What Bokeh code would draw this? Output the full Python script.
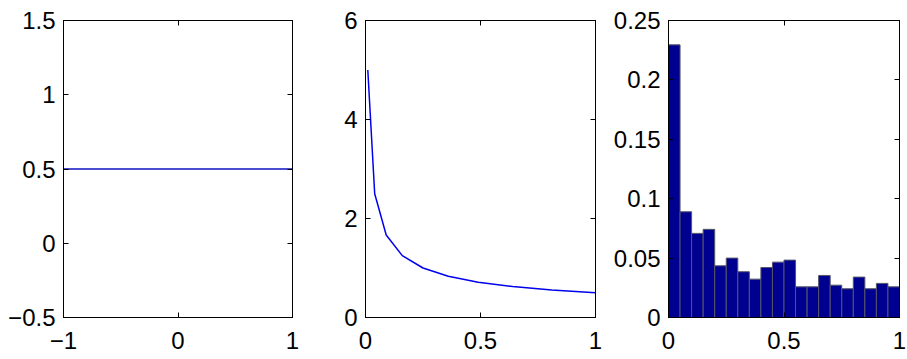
from bokeh.plotting import figure
from bokeh.layouts import row
from bokeh.models import Range1d, LinearAxis, FixedTicker
from bokeh.embed import file_html
from bokeh.resources import INLINE

# ---- data ----
flat_x = [-1.0, 1.0]
flat_y = [0.5, 0.5]

curve_x = [0.01, 0.04, 0.09, 0.16, 0.25, 0.36, 0.49, 0.64, 0.81, 1.0]
curve_y = [5.0, 2.5, 1.667, 1.25, 1.0, 0.833, 0.714, 0.625, 0.556, 0.5]

hist_centers = [0.025, 0.075, 0.125, 0.175, 0.225, 0.275, 0.325, 0.375, 0.425, 0.475,
                0.525, 0.575, 0.625, 0.675, 0.725, 0.775, 0.825, 0.875, 0.925, 0.975]
hist_heights = [0.2295, 0.089, 0.0708, 0.0742, 0.0435, 0.050, 0.0385, 0.0323, 0.0421, 0.0466,
                0.0483, 0.0258, 0.0258, 0.0354, 0.0272, 0.0242, 0.034, 0.0242, 0.0287, 0.0258]

p1_xticks = [-1, 0, 1]
p1_yticks = [-0.5, 0, 0.5, 1, 1.5]
p2_xticks = [0, 0.5, 1]
p2_yticks = [0, 2, 4, 6]
p3_xticks = [0, 0.5, 1]
p3_yticks = [0, 0.05, 0.1, 0.15, 0.2, 0.25]

FONT = "Liberation Sans"
FSIZE = "24px"


def label_map(ticks):
    out = {}
    for t in ticks:
        s = ("%g" % t)
        if t < 0:
            s = "\u2212" + s[1:]
        out[t] = s
    return out


def make_fig(xr, yr, xt, yt, bl, fw, br):
    p = figure(x_range=Range1d(*xr), y_range=Range1d(*yr),
               frame_width=fw, frame_height=297,
               min_border_left=bl, min_border_right=br,
               min_border_top=20, min_border_bottom=42,
               output_backend="svg", toolbar_location=None)
    p.xgrid.visible = False
    p.ygrid.visible = False
    p.outline_line_color = "black"
    p.outline_line_width = 1
    p.background_fill_color = "white"
    p.border_fill_color = "white"
    for ax, ticks in ((p.xaxis[0], xt), (p.yaxis[0], yt)):
        ax.ticker = FixedTicker(ticks=ticks)
        ax.major_label_overrides = label_map(ticks)
        ax.major_tick_in = 5
        ax.major_tick_out = 0
        ax.minor_tick_line_color = None
        ax.axis_line_color = "black"
        ax.major_label_text_font = FONT
        ax.major_label_text_font_size = FSIZE
        ax.major_label_text_color = "black"
    p.xaxis[0].major_label_standoff = 14
    p.yaxis[0].major_label_standoff = 8
    for loc, ticks in (("right", yt), ("above", xt)):
        a = LinearAxis(ticker=FixedTicker(ticks=ticks), major_tick_in=5, major_tick_out=0,
                       minor_tick_line_color=None, major_label_text_font_size="1px",
                       major_label_text_color=None,
                       major_label_standoff=0, axis_line_color="black")
        p.add_layout(a, loc)
    return p


p1 = make_fig((-1, 1), (-0.5, 1.5), p1_xticks, p1_yticks, 63, 229, 28)
p1.line(flat_x, flat_y, line_color="#1010c0", line_width=1.5)

p2 = make_fig((0, 1), (0, 6), p2_xticks, p2_yticks, 45, 230, 15)
p2.line(curve_x, curve_y, line_color="#0000ee", line_width=1.5)

p3 = make_fig((0, 1), (0, 0.25), p3_xticks, p3_yticks, 56, 231, 10)
p3.vbar(x=hist_centers, top=hist_heights, width=0.05, bottom=0,
        fill_color="#000090", line_color="#55556a", line_width=1)

layout = row(p1, p2, p3, spacing=0)

open("out.html", "w").write(file_html(layout, INLINE))
